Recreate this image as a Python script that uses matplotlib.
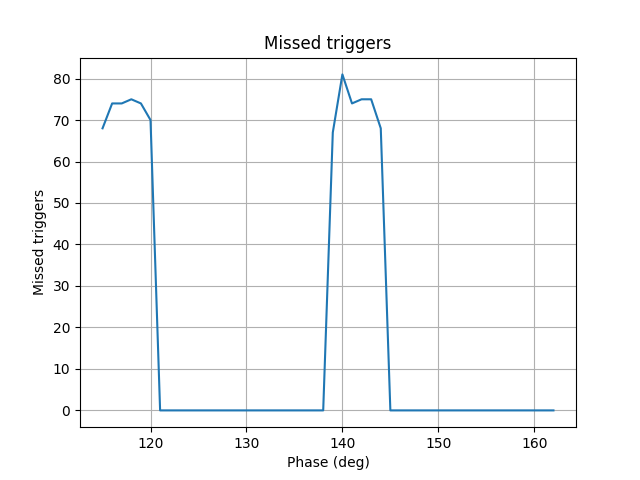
import matplotlib
matplotlib.use('Agg')
import matplotlib.pyplot as plt

phase = list(range(115, 163))
missed = ([68, 74, 74, 75, 74, 70] + [0] * 18 +
          [67, 81, 74, 75, 75, 68] + [0] * 18)

fig, ax = plt.subplots(figsize=(6.4, 4.8), dpi=100)
ax.plot(phase, missed)
ax.set_xlabel('Phase (deg)')
ax.set_ylabel('Missed triggers')
ax.set_title('Missed triggers')
ax.grid(True)

plt.savefig('out.png')
